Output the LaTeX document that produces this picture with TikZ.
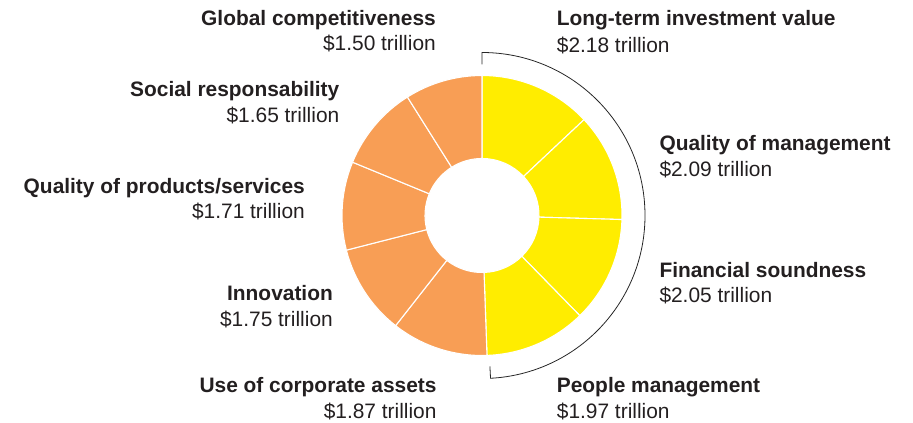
\documentclass[tikz,border=0pt]{standalone}
\usepackage{fontspec}
\setmainfont{Liberation Sans}
\usetikzlibrary{calc}
\definecolor{dyellow}{HTML}{FFED00}
\definecolor{dorange}{HTML}{F89E55}
\definecolor{dtext}{HTML}{231F20}
\tikzset{
  lab/.style={inner sep=0pt, text=dtext, font=\fontsize{20.9}{24}\selectfont\bfseries},
  val/.style={inner sep=0pt, text=dtext, font=\fontsize{20.9}{24}\selectfont},
  seg/.style={draw=white, line width=1.1pt, line join=miter},
  bracket/.style={draw=black!85, line width=0.8pt},
}
\begin{document}
\begin{tikzpicture}[x=1pt,y=1pt]
\useasboundingbox (0,0) rectangle (913,423);
\coordinate (C) at (482,207.5);
\def\Ro{140}
\def\Ri{57}
% wedges: start angle / end angle / colour
\foreach \a/\b/\c in {90/43.20/dyellow, 43.20/-1.66/dyellow, -1.66/-45.67/dyellow, -45.67/-87.96/dyellow,
  -87.96/-128.10/dorange, -128.10/-165.67/dorange, -165.67/-202.38/dorange, -202.38/-237.80/dorange, -237.80/-270/dorange}{
  \path[seg, fill=\c] ($(C)+(\a:\Ro)$) arc[start angle=\a, end angle=\b, radius=\Ro]
    -- ($(C)+(\b:\Ri)$) arc[start angle=\b, end angle=\a, radius=\Ri] -- cycle;
}
% bracket
\draw[bracket] ($(C)+(90:151)$) -- ($(C)+(90:163)$) arc[start angle=90, end angle=-87, radius=163]
  -- ($(C)+(-87:151)$);
% left labels
\node[lab, anchor=base east] (gcL) at (436,397.5) {Global competitiveness};
\node[val, anchor=base east] (gcV) at (436,372) {\$1.50 trillion};
\node[lab, anchor=base east] (srL) at (339.5,326.3) {Social responsability};
\node[val, anchor=base east] (srV) at (339.5,300.3) {\$1.65 trillion};
\node[lab, anchor=base east] (qpL) at (305,229.7) {Quality of products/services};
\node[val, anchor=base east] (qpV) at (305,204) {\$1.71 trillion};
\node[lab, anchor=base east] (inL) at (333,122.3) {Innovation};
\node[val, anchor=base east] (inV) at (333,96.3) {\$1.75 trillion};
\node[lab, anchor=base east] (ucL) at (436.7,30.7) {Use of corporate assets};
\node[val, anchor=base east] (ucV) at (436.7,4.2) {\$1.87 trillion};
% right labels
\node[lab, anchor=base west] (ltL) at (556.7,397) {Long-term investment value};
\node[val, anchor=base west] (ltV) at (556.7,370.7) {\$2.18 trillion};
\node[lab, anchor=base west] (qmL) at (659.3,272.3) {Quality of management};
\node[val, anchor=base west] (qmV) at (659.3,246.3) {\$2.09 trillion};
\node[lab, anchor=base west] (fsL) at (659.3,145.7) {Financial soundness};
\node[val, anchor=base west] (fsV) at (659.3,120.3) {\$2.05 trillion};
\node[lab, anchor=base west] (pmL) at (556.7,30.2) {People management};
\node[val, anchor=base west] (pmV) at (556.7,4.2) {\$1.97 trillion};
\end{tikzpicture}
\end{document}
